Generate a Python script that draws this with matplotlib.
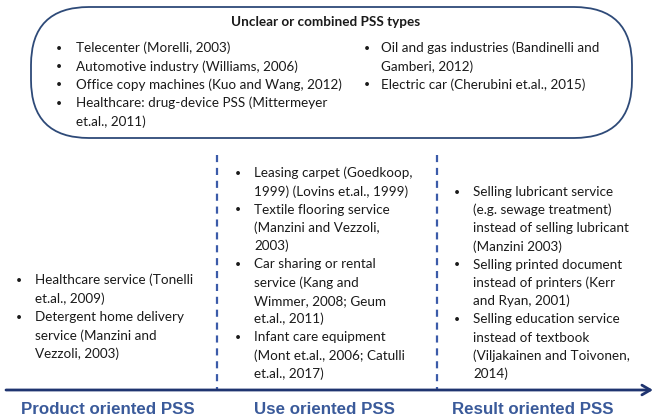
import matplotlib
matplotlib.use("Agg")
import matplotlib.pyplot as plt
from matplotlib.patches import FancyBboxPatch

# --- content -------------------------------------------------------------
box_title = "Unclear or combined PSS types"
unclear_left = [
    ["Telecenter (Morelli, 2003)"],
    ["Automotive industry (Williams, 2006)"],
    ["Office copy machines (Kuo and Wang, 2012)"],
    ["Healthcare: drug-device PSS (Mittermeyer", "et.al., 2011)"],
]
unclear_right = [
    ["Oil and gas industries (Bandinelli and", "Gamberi, 2012)"],
    ["Electric car (Cherubini et.al., 2015)"],
]
product_items = [
    ["Healthcare service (Tonelli", "et.al., 2009)"],
    ["Detergent home delivery", "service (Manzini and", "Vezzoli, 2003)"],
]
use_items = [
    ["Leasing carpet (Goedkoop,", "1999) (Lovins et.al., 1999)"],
    ["Textile flooring service", "(Manzini and Vezzoli,", "2003)"],
    ["Car sharing or rental", "service (Kang and", "Wimmer, 2008; Geum", "et.al., 2011)"],
    ["Infant care equipment", "(Mont et.al., 2006; Catulli", "et.al., 2017)"],
]
result_items = [
    ["Selling lubricant service", "(e.g. sewage treatment)", "instead of selling lubricant", "(Manzini 2003)"],
    ["Selling printed document", "instead of printers (Kerr", "and Ryan, 2001)"],
    ["Selling education service", "instead of textbook", "(Viljakainen and Toivonen,", "2014)"],
]
axis_labels = ["Product oriented PSS", "Use oriented PSS", "Result oriented PSS"]

# --- style ---------------------------------------------------------------
W, H = 654, 419
body_font = "Lato"
body_size = 9.7
bullet_size = 7.5
text_color = "#1a1a1a"
box_color = "#2e4a78"
dash_color = "#3b5ba9"
arrow_color = "#1f3470"
label_color = "#3a5a9a"

fig = plt.figure(figsize=(W / 100, H / 100), dpi=100)
ax = fig.add_axes([0, 0, 1, 1])
ax.set_xlim(0, W)
ax.set_ylim(H, 0)
ax.axis("off")


def draw_list(items, x_bullet, x_text, y0, step):
    y = y0
    for item in items:
        ax.text(x_bullet, y, "\u2022", fontsize=bullet_size, family=body_font,
                ha="center", va="center", color=text_color)
        for line in item:
            ax.text(x_text, y, line, fontsize=body_size, family=body_font,
                    ha="left", va="center", color=text_color)
            y += step


# rounded box at top
box = FancyBboxPatch((31, 7), 601, 131, boxstyle="round,pad=0,rounding_size=58",
                     fill=False, edgecolor=box_color, linewidth=1.3)
ax.add_patch(box)
ax.text(326, 22, box_title, fontsize=body_size, family=body_font, fontweight="bold",
        ha="center", va="center", color=text_color)
draw_list(unclear_left, 59, 76, 48, 18.4)
draw_list(unclear_right, 367, 381, 48, 18.4)

# three columns below
draw_list(product_items, 19, 35, 280, 18.5)
draw_list(use_items, 238, 254, 173, 18.27)
draw_list(result_items, 457, 473, 192, 18.2)

# dashed separators
for xs in (217, 437):
    ax.plot([xs, xs], [155, 390], color=dash_color, linewidth=1.6,
            linestyle=(0, (3.2, 2.6)))

# axis arrow
ax.annotate("", xy=(653, 390), xytext=(6, 390),
            arrowprops=dict(arrowstyle="->,head_length=0.6,head_width=0.35",
                            color=arrow_color, lw=2, shrinkA=0, shrinkB=0))

for lbl, xc in zip(axis_labels, (108, 324, 533)):
    ax.text(xc, 409, lbl, fontsize=12.2, family="Liberation Sans", fontweight="bold",
            ha="center", va="center", color=label_color)

fig.savefig("out.png", dpi=100)
